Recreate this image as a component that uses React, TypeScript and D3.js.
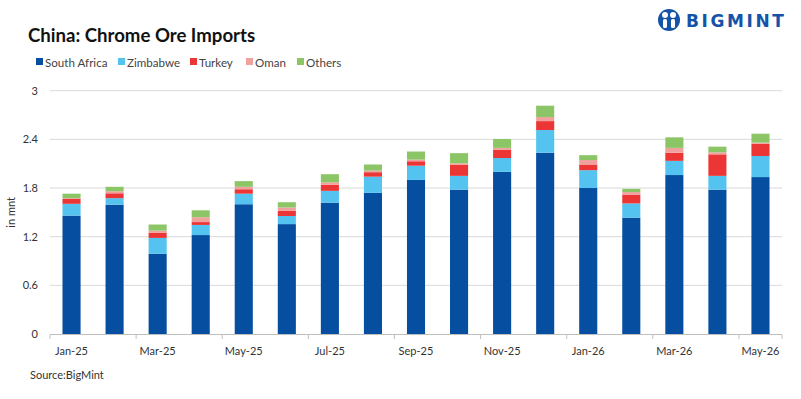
import React from "react";
import * as d3 from "d3";

const months = [
  "Jan-25", "Feb-25", "Mar-25", "Apr-25", "May-25", "Jun-25", "Jul-25", "Aug-25", "Sep-25",
  "Oct-25", "Nov-25", "Dec-25", "Jan-26", "Feb-26", "Mar-26", "Apr-26", "May-26",
];
const southAfrica = [1.46, 1.595, 0.99, 1.22, 1.6, 1.355, 1.62, 1.74, 1.9, 1.78, 2.0, 2.235, 1.8, 1.435, 1.96, 1.78, 1.935];
const zimbabwe = [0.145, 0.08, 0.195, 0.125, 0.13, 0.1, 0.145, 0.2, 0.175, 0.17, 0.17, 0.28, 0.22, 0.175, 0.175, 0.17, 0.26];
const turkey = [0.06, 0.06, 0.065, 0.035, 0.055, 0.065, 0.075, 0.055, 0.055, 0.135, 0.1, 0.11, 0.07, 0.105, 0.1, 0.265, 0.15];
const oman = [0.01, 0.025, 0.025, 0.06, 0.03, 0.04, 0.03, 0.02, 0.02, 0.02, 0.025, 0.05, 0.055, 0.035, 0.06, 0.025, 0.015];
const others = [0.055, 0.055, 0.075, 0.085, 0.07, 0.065, 0.1, 0.075, 0.1, 0.125, 0.11, 0.14, 0.06, 0.04, 0.13, 0.07, 0.11];
const seriesNames = ["South Africa", "Zimbabwe", "Turkey", "Oman", "Others"];
const seriesColors = ["#054ea0", "#55c3f0", "#ec3535", "#f0a19e", "#8bc566"];
const yTicks = [0, 0.6, 1.2, 1.8, 2.4, 3];

const W = 801;
const H = 399;
const FONT = "Lato, 'Open Sans', sans-serif";

export default function App() {
  const rows = months.map((m, i) => ({
    month: m,
    "South Africa": southAfrica[i],
    Zimbabwe: zimbabwe[i],
    Turkey: turkey[i],
    Oman: oman[i],
    Others: others[i],
  }));
  const stacked = d3.stack<any>().keys(seriesNames)(rows);

  const x = d3.scaleBand().domain(months).range([50, 782]).paddingInner(0.58).paddingOuter(0.29);
  const y = d3.scaleLinear().domain([0, 3]).range([334, 90.7]);

  const legendX = [36, 118, 190, 246, 297];
  const step = x.step();

  return (
    <svg width={W} height={H} style={{ position: "absolute", left: 0, top: 0, background: "#fff" }} fontFamily={FONT}>
      <rect width={W} height={H} fill="#fff" />
      <text x={28} y={42} fontSize={18.6} fontWeight={700} fill="#111">China: Chrome Ore Imports</text>

      {seriesNames.map((s, i) => (
        <g key={s}>
          <rect x={legendX[i]} y={58} width={7} height={7} fill={seriesColors[i]} />
          <text x={legendX[i] + 9} y={66.5} fontSize={11.6} fill="#444">{s}</text>
        </g>
      ))}

      {/* brand mark */}
      <g>
        <circle cx={669} cy={20} r={11} fill="#1553a8" />
        <circle cx={665} cy={15} r={3} fill="#fff" />
        <circle cx={673} cy={15} r={3} fill="#fff" />
        <rect x={663} y={19} width={4} height={9} rx={1.5} fill="#fff" />
        <rect x={671} y={19} width={4} height={9} rx={1.5} fill="#fff" />
        <text x={686} y={27} fontSize={17} fontWeight={800} fill="#1553a8" letterSpacing={2.6} fontFamily="'DejaVu Sans', sans-serif">BIGMINT</text>
      </g>

      {yTicks.map((t) => (
        <g key={t}>
          {t > 0 && <line x1={50} x2={782} y1={y(t)} y2={y(t)} stroke="#d9d9d9" strokeWidth={1} />}
          <text x={38} y={y(t) + 4} fontSize={11} textAnchor="end" fill="#333">{t}</text>
        </g>
      ))}
      <text transform={`translate(15,${(y(0) + y(3)) / 2}) rotate(-90)`} fontSize={11} textAnchor="middle" fill="#333">in mnt</text>

      {stacked.map((layer, si) => (
        <g key={layer.key} fill={seriesColors[si]}>
          {layer.map((d, i) => (
            <rect key={i} x={x(months[i])} width={x.bandwidth()} y={y(d[1])} height={y(d[0]) - y(d[1])} />
          ))}
        </g>
      ))}

      <line x1={50} x2={782} y1={334.5} y2={334.5} stroke="#bfbfbf" />
      {months.map((m, i) =>
        i % 2 === 0 ? (
          <line key={"tk" + m} x1={50 + i * step} x2={50 + i * step} y1={334.5} y2={339} stroke="#bfbfbf" />
        ) : null
      )}
      <line x1={782} x2={782} y1={334.5} y2={339} stroke="#bfbfbf" />
      {months.map((m, i) =>
        i % 2 === 0 ? (
          <text key={m} x={(x(m) ?? 0) + x.bandwidth() / 2} y={355} fontSize={11} textAnchor="middle" fill="#333">{m}</text>
        ) : null
      )}

      <text x={30} y={379} fontSize={11} fill="#333">Source:BigMint</text>
    </svg>
  );
}
